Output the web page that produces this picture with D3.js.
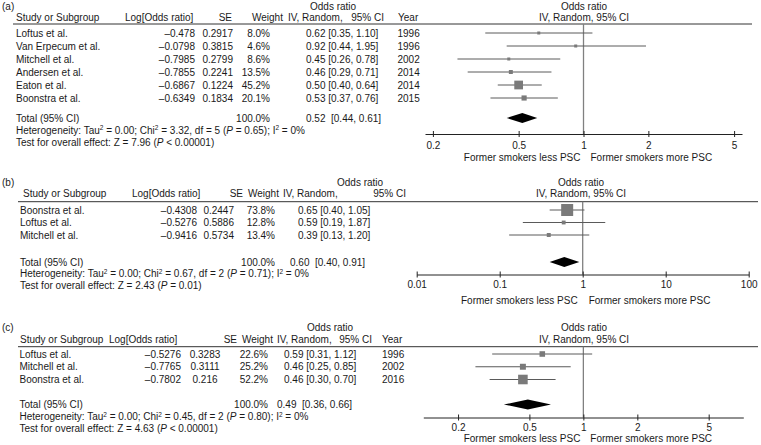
<!DOCTYPE html>
<html><head><meta charset="utf-8">
<script src="https://cdn.jsdelivr.net/npm/d3@7"></script>
<style>
html,body{margin:0;padding:0;background:#fff;}
svg{display:block;font-family:"Liberation Sans",Arial,Helvetica,sans-serif;font-size:10px;}
text{fill:#1a1a1a;white-space:pre;}
</style></head><body>
<svg id="chart" width="761" height="445"></svg>
<script>
// ---------------- Data ----------------
const panelLabels = ["(a)", "(b)", "(c)"];

// Panel (a)
const studiesA = ["Loftus et al.", "Van Erpecum et al.", "Mitchell et al.", "Andersen et al.", "Eaton et al.", "Boonstra et al."];
const logOrA = [-0.478, -0.0798, -0.7985, -0.7855, -0.6867, -0.6349];
const seA = [0.2917, 0.3815, 0.2799, 0.2241, 0.1224, 0.1834];
const weightA = [8.0, 4.6, 8.6, 13.5, 45.2, 20.1];
const orA = [0.62, 0.92, 0.45, 0.46, 0.50, 0.53];
const loA = [0.35, 0.44, 0.26, 0.29, 0.40, 0.37];
const hiA = [1.10, 1.95, 0.78, 0.71, 0.64, 0.76];
const yearA = [1996, 1996, 2002, 2014, 2014, 2015];
const totalA = [0.52, 0.44, 0.61];
const hetA = "Heterogeneity: Tau^2 = 0.00; Chi^2 = 3.32, df = 5 (_P_ = 0.65); I^2 = 0%";
const testA = "Test for overall effect: Z = 7.96 (_P_ < 0.00001)";
const ticksA = [0.2, 0.5, 1, 2, 5];

// Panel (b)
const studiesB = ["Boonstra et al.", "Loftus et al.", "Mitchell et al."];
const logOrB = [-0.4308, -0.5276, -0.9416];
const seB = [0.2447, 0.5886, 0.5734];
const weightB = [73.8, 12.8, 13.4];
const orB = [0.65, 0.59, 0.39];
const loB = [0.40, 0.19, 0.13];
const hiB = [1.05, 1.87, 1.20];
const yearB = null;
const totalB = [0.60, 0.40, 0.91];
const hetB = "Heterogeneity: Tau^2 = 0.00; Chi^2 = 0.67, df = 2 (_P_ = 0.71); I^2 = 0%";
const testB = "Test for overall effect: Z = 2.43 (_P_ = 0.01)";
const ticksB = [0.01, 0.1, 1, 10, 100];

// Panel (c)
const studiesC = ["Loftus et al.", "Mitchell et al.", "Boonstra et al."];
const logOrC = [-0.5276, -0.7765, -0.7802];
const seC = [0.3283, 0.3111, 0.216];
const weightC = [22.6, 25.2, 52.2];
const orC = [0.59, 0.46, 0.46];
const loC = [0.31, 0.25, 0.30];
const hiC = [1.12, 0.85, 0.70];
const yearC = [1996, 2002, 2016];
const totalC = [0.49, 0.36, 0.66];
const hetC = "Heterogeneity: Tau^2 = 0.00; Chi^2 = 0.45, df = 2 (_P_ = 0.80); I^2 = 0%";
const testC = "Test for overall effect: Z = 4.63 (_P_ < 0.00001)";
const ticksC = [0.2, 0.5, 1, 2, 5];

const headers = ["Study or Subgroup", "Log[Odds ratio]", "SE", "Weight", "Odds ratio", "IV, Random,", "95% CI", "Year"];
const totalLabel = "Total (95% CI)";
const totalWeight = 100.0;
const sideLabels = ["Former smokers less PSC", "Former smokers more PSC"];

// ---------------- Layout ----------------
const panels = [
  { label: panelLabels[0], studies: studiesA, logOr: logOrA, se: seA, weight: weightA, or: orA, lo: loA, hi: hiA, year: yearA,
    total: totalA, het: hetA, test: testA, ticks: ticksA, domain: [0.1838, 5.44], range: [425, 742],
    y: { title: 6, header: 17.5, line: 24, rows: [33, 98], total: 118, het: 130, test: 142, axis: 134, tickLab: 145.5, bottom: 157.5 },
    c: { label: 2, head: 16, name: 16, logHead: 125, logR: 195, seHeadR: 232, seVal: 233, seAnchor: "end", wHead: 252, wR: 270,
         ivHead: 288, ciHeadEnd: 384, orHead: 310, orStart: 306, totStart: 306, yearHead: 398, year: 397.5, line: [13, 752],
         right: 584, lessEnd: -3, moreStart: 7 } },
  { label: panelLabels[1], studies: studiesB, logOr: logOrB, se: seB, weight: weightB, or: orB, lo: loB, hi: hiB, year: yearB,
    total: totalB, het: hetB, test: testB, ticks: ticksB, domain: [0.01, 100], range: [416.7, 748.7],
    y: { title: 182, header: 193.3, line: 201.7, rows: [210, 235], total: 262, het: 273.5, test: 285, axis: 274.5, tickLab: 284, bottom: 300 },
    c: { label: 2, head: 23, name: 20, logHead: 132, logR: 197, seHeadR: 243, seVal: 234, seAnchor: "end", wHead: 248, wR: 275,
         ivHead: 283, ciHeadEnd: 406, orHead: 337, orStart: 298, totStart: 290, line: [18, 758],
         right: 581, lessEnd: -5, moreStart: 6 } },
  { label: panelLabels[2], studies: studiesC, logOr: logOrC, se: seC, weight: weightC, or: orC, lo: loC, hi: hiC, year: yearC,
    total: totalC, het: hetC, test: testC, ticks: ticksC, domain: [0.128, 7.8], range: [423.3, 743.3],
    y: { title: 327.5, header: 339.5, line: 346.7, rows: [354, 379.5], total: 404.5, het: 416.5, test: 428.5, axis: 417.5, tickLab: 427.5, bottom: 438.5 },
    c: { label: 2, head: 20, name: 19.5, logHead: 109, logR: 181, seHeadR: 237, seVal: 205, seAnchor: "middle", wHead: 242, wR: 268,
         ivHead: 277, ciHeadEnd: 372, orHead: 307, orStart: 284, totStart: 277, yearHead: 382, year: 382, line: [18, 758],
         right: 584, lessEnd: -3, moreStart: 7 } }
];

const svg = d3.select("#chart");
const BL = 3.6; // baseline offset from text centre
const boxSize = d3.scalePow().exponent(0.65).domain([0, 73.8]).range([0, 12]);

const fmtLog = v => String(v).replace("-", "\u2013");
const fmtW = v => v.toFixed(1) + "%";
const fmtOR = (o, l, h, sep) => `${o.toFixed(2)}${sep}[${l.toFixed(2)}, ${h.toFixed(2)}]`;

function txt(g, x, y, s, anchor) {
  return g.append("text").attr("x", x).attr("y", y + BL).attr("text-anchor", anchor || "start")
    .attr("xml:space", "preserve").text(s);
}
function rich(g, x, y, str) {
  const t = g.append("text").attr("x", x).attr("y", y + BL).attr("xml:space", "preserve");
  let pending = 0;
  str.split(/(\^2|_P_)/).forEach(p => {
    if (!p) return;
    if (p === "^2") {
      t.append("tspan").attr("dy", -3.6 + pending).attr("font-size", 6.5).text("2");
      pending = 3.6;
    } else {
      const ts = t.append("tspan").attr("dy", pending).text(p === "_P_" ? "P" : p);
      if (p === "_P_") ts.attr("font-style", "italic");
      pending = 0;
    }
  });
}

panels.forEach(p => {
  const g = svg.append("g");
  const c = p.c, Y = p.y;
  const n = p.studies.length;
  const x = d3.scaleLog().domain(p.domain).range(p.range);
  const yRow = d3.scaleLinear().domain([0, n - 1]).range(Y.rows);
  const x1 = x(1);

  // Titles
  txt(g, c.label, Y.title, p.label);
  txt(g, c.orHead, Y.title, headers[4]);
  txt(g, c.right, Y.title, headers[4], "middle");
  txt(g, c.right, Y.header, headers[5] + " " + headers[6], "middle");

  // Column headers
  txt(g, c.head, Y.header, headers[0]);
  txt(g, c.logHead, Y.header, headers[1]);
  txt(g, c.seHeadR, Y.header, headers[2], "end");
  txt(g, c.wHead, Y.header, headers[3]);
  txt(g, c.ivHead, Y.header, headers[5]);
  txt(g, c.ciHeadEnd, Y.header, headers[6], "end");
  if (p.year) txt(g, c.yearHead, Y.header, headers[7]);

  g.append("line").attr("x1", c.line[0]).attr("x2", c.line[1]).attr("y1", Y.line).attr("y2", Y.line)
    .attr("stroke", "#333").attr("stroke-width", 1);

  // Rows
  p.studies.forEach((s, i) => {
    const yy = yRow(i);
    txt(g, c.name, yy, s);
    txt(g, c.logR, yy, fmtLog(p.logOr[i]), "end");
    txt(g, c.seVal, yy, String(p.se[i]), c.seAnchor);
    txt(g, c.wR, yy, fmtW(p.weight[i]), "end");
    txt(g, c.orStart, yy, fmtOR(p.or[i], p.lo[i], p.hi[i], " "));
    if (p.year) txt(g, c.year, yy, String(p.year[i]));
  });

  // Total & stats
  txt(g, c.name, Y.total, totalLabel);
  txt(g, c.wR, Y.total, fmtW(totalWeight), "end");
  txt(g, c.totStart, Y.total, fmtOR(p.total[0], p.total[1], p.total[2], "  "));
  rich(g, c.name, Y.het, p.het);
  rich(g, c.name, Y.test, p.test);

  // Reference line
  g.append("line").attr("x1", x1).attr("x2", x1).attr("y1", Y.line).attr("y2", Y.axis)
    .attr("stroke", "#808080").attr("stroke-width", 1.3);

  // CI lines and boxes
  p.studies.forEach((s, i) => {
    const yy = yRow(i);
    g.append("line").attr("x1", x(p.lo[i])).attr("x2", x(p.hi[i])).attr("y1", yy).attr("y2", yy)
      .attr("stroke", "#5a5a5a").attr("stroke-width", 1);
    const b = Math.max(3, boxSize(p.weight[i]));
    g.append("rect").attr("x", x(p.or[i]) - b / 2).attr("y", yy - b / 2).attr("width", b).attr("height", b)
      .attr("fill", "#7a7a7a");
  });

  // Diamond
  const dh = 5;
  g.append("path")
    .attr("d", `M${x(p.total[1])},${Y.total} L${x(p.total[0])},${Y.total - dh} L${x(p.total[2])},${Y.total} L${x(p.total[0])},${Y.total + dh} Z`)
    .attr("fill", "#000");

  // Axis
  const ax = g.append("g").attr("transform", `translate(0,${Y.axis})`)
    .call(d3.axisBottom(x).tickValues(p.ticks).tickFormat(d => String(d)).tickSizeInner(3).tickSizeOuter(0));
  ax.attr("font-family", null).attr("font-size", null);
  ax.select(".domain").attr("stroke", "#222");
  ax.selectAll(".tick line").attr("y1", -3).attr("y2", 3).attr("stroke", "#222");
  ax.selectAll(".tick text").attr("y", Y.tickLab - Y.axis + BL).attr("dy", null).attr("fill", "#1a1a1a");

  // Side labels
  txt(g, x1 + c.lessEnd, Y.bottom, sideLabels[0], "end");
  txt(g, x1 + c.moreStart, Y.bottom, sideLabels[1]);
});
</script>
</body></html>
